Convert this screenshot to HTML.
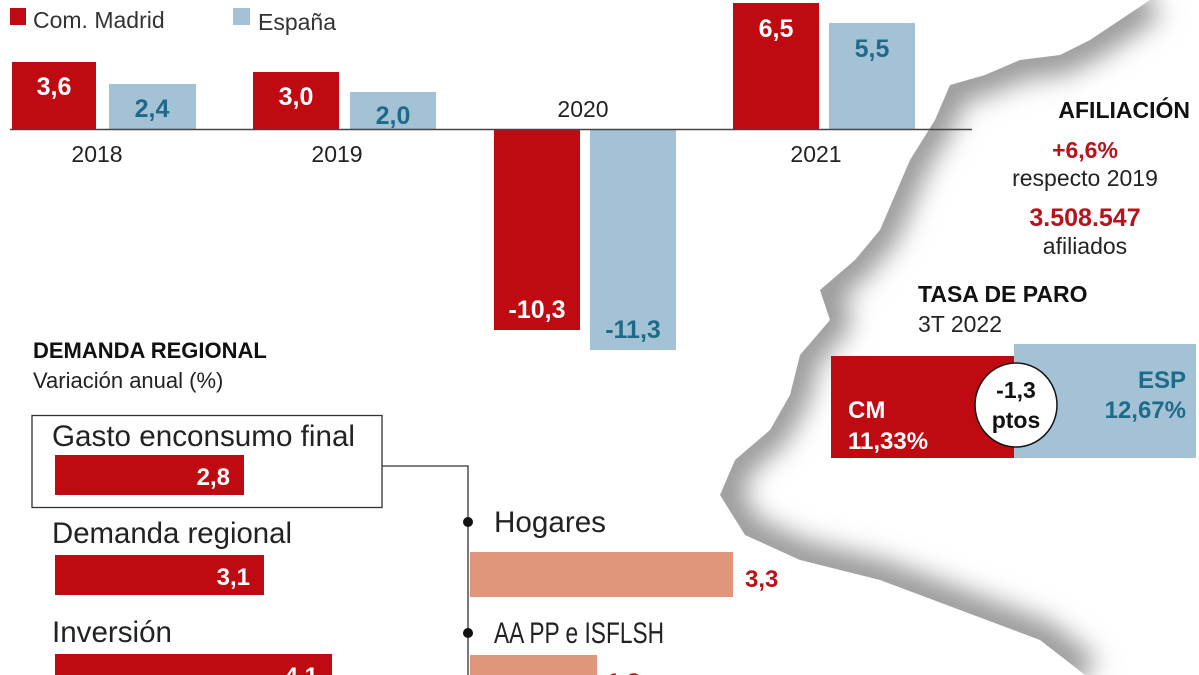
<!DOCTYPE html>
<html><head><meta charset="utf-8"><style>
html,body{margin:0;padding:0;background:#fff;}
svg{display:block;}
text{font-family:"Liberation Sans",sans-serif;}
</style></head><body>
<svg width="1199" height="675" viewBox="0 0 1199 675" xmlns="http://www.w3.org/2000/svg">
<defs>
<filter id="bl" x="-30%" y="-30%" width="160%" height="160%"><feGaussianBlur stdDeviation="13"/></filter>
<clipPath id="mc"><path d="M1150,0 L1199,0 L1199,675 L1085,675 L1040,640 L960,610 L880,580 L800,560 L745,535 L720,495 L735,460 L770,430 L790,395 L800,355 L830,320 L820,290 L855,260 L880,230 L895,195 L910,160 L935,120 L950,85 L985,75 L1020,60 L1060,55 L1090,40 L1120,20 Z"/></clipPath>
</defs>
<g clip-path="url(#mc)">
<rect x="700" y="0" width="499" height="675" fill="#fff"/>
<path d="M1150,0 L1120,20 L1090,40 L1060,55 L1020,60 L985,75 L950,85 L935,120 L910,160 L895,195 L880,230 L855,260 L820,290 L830,320 L800,355 L790,395 L770,430 L735,460 L720,495 L745,535 L800,560 L880,580 L960,610 L1040,640 L1085,675" fill="none" stroke="#999" stroke-width="40" filter="url(#bl)"/>
</g>
<!-- legend -->
<rect x="10" y="8" width="16" height="17" fill="#c00a12"/>
<text x="33" y="28" font-size="23" fill="#333">Com. Madrid</text>
<rect x="233" y="8" width="17" height="17" fill="#a3c2d6"/>
<text x="258" y="30" font-size="23" fill="#333">España</text>
<!-- bars -->
<rect x="12" y="62" width="84" height="67" fill="#c00a12"/>
<rect x="109" y="84" width="87" height="45" fill="#a3c2d6"/>
<rect x="253" y="72" width="86" height="57" fill="#c00a12"/>
<rect x="350" y="92" width="86" height="37" fill="#a3c2d6"/>
<rect x="494" y="129" width="86" height="201" fill="#c00a12"/>
<rect x="590" y="129" width="86" height="221" fill="#a3c2d6"/>
<rect x="733" y="3" width="86" height="126" fill="#c00a12"/>
<rect x="829" y="23" width="86" height="106" fill="#a3c2d6"/>
<line x1="10" y1="129.5" x2="972" y2="129.5" stroke="#444" stroke-width="1.5"/>
<g font-weight="bold" font-size="25" text-anchor="middle">
<text x="54" y="95" fill="#fff">3,6</text>
<text x="152" y="117" fill="#1f6a88">2,4</text>
<text x="296" y="105" fill="#fff">3,0</text>
<text x="393" y="124" fill="#1f6a88">2,0</text>
<text x="537" y="318" fill="#fff">-10,3</text>
<text x="633" y="338" fill="#1f6a88">-11,3</text>
<text x="776" y="37" fill="#fff">6,5</text>
<text x="872" y="57" fill="#1f6a88">5,5</text>
</g>
<g font-size="23" text-anchor="middle" fill="#222">
<text x="97" y="162">2018</text>
<text x="337" y="162">2019</text>
<text x="583" y="117">2020</text>
<text x="816" y="162">2021</text>
</g>
<!-- afiliacion -->
<g text-anchor="middle">
<text x="1190" y="118" font-size="23" font-weight="bold" text-anchor="end" fill="#111">AFILIACIÓN</text>
<text x="1085" y="158" font-size="23" font-weight="bold" fill="#b8121b">+6,6%</text>
<text x="1085" y="186" font-size="23" fill="#222">respecto 2019</text>
<text x="1085" y="226" font-size="25" font-weight="bold" fill="#b8121b">3.508.547</text>
<text x="1085" y="254" font-size="23" fill="#222">afiliados</text>
</g>
<text x="918" y="302" font-size="23" font-weight="bold" fill="#111">TASA DE PARO</text>
<text x="918" y="332" font-size="23" fill="#222">3T 2022</text>
<rect x="831" y="356" width="184" height="102" fill="#c00a12"/>
<rect x="1014" y="344" width="182" height="114" fill="#a3c2d6"/>
<text x="848" y="418" font-size="24" font-weight="bold" fill="#fff">CM</text>
<text x="848" y="449" font-size="24" font-weight="bold" fill="#fff">11,33%</text>
<text x="1186" y="388" font-size="24" font-weight="bold" fill="#1f6a88" text-anchor="end">ESP</text>
<text x="1186" y="418" font-size="24" font-weight="bold" fill="#1f6a88" text-anchor="end">12,67%</text>
<ellipse cx="1016" cy="405" rx="41" ry="42" fill="#fff" stroke="#111" stroke-width="1.5"/>
<text x="1016" y="398" font-size="23" font-weight="bold" text-anchor="middle" fill="#111">-1,3</text>
<text x="1016" y="428" font-size="23" font-weight="bold" text-anchor="middle" fill="#111">ptos</text>
<!-- demanda -->
<text x="33" y="358" font-size="22" font-weight="bold" fill="#111">DEMANDA REGIONAL</text>
<text x="33" y="388" font-size="22" fill="#222">Variación anual (%)</text>
<rect x="32" y="415.5" width="350" height="92" fill="none" stroke="#333" stroke-width="1.3"/>
<polyline points="382,466 468,466 468,675" fill="none" stroke="#333" stroke-width="1.3"/>
<circle cx="468" cy="522" r="5" fill="#111"/>
<circle cx="468" cy="633" r="5" fill="#111"/>
<g font-size="30" fill="#222">
<text x="52" y="446" textLength="303" lengthAdjust="spacingAndGlyphs">Gasto enconsumo final</text>
<text x="52" y="543" textLength="240" lengthAdjust="spacingAndGlyphs">Demanda regional</text>
<text x="52" y="642" textLength="120" lengthAdjust="spacingAndGlyphs">Inversión</text>
<text x="494" y="532" textLength="112" lengthAdjust="spacingAndGlyphs">Hogares</text>
<text x="494" y="643" textLength="170" lengthAdjust="spacingAndGlyphs">AA PP e ISFLSH</text>
</g>
<rect x="55" y="455" width="189" height="40" fill="#c00a12"/>
<rect x="55" y="555" width="209" height="40" fill="#c00a12"/>
<rect x="55" y="654" width="277" height="30" fill="#c00a12"/>
<rect x="470" y="552" width="263" height="45" fill="#e0967a"/>
<rect x="470" y="655" width="127" height="30" fill="#e0967a"/>
<g font-size="24" font-weight="bold">
<text x="230" y="485" fill="#fff" text-anchor="end">2,8</text>
<text x="250" y="585" fill="#fff" text-anchor="end">3,1</text>
<text x="318" y="684" fill="#fff" text-anchor="end">4,1</text>
<text x="745" y="587" fill="#b8121b">3,3</text>
<text x="607" y="690" fill="#b8121b">1,8</text>
</g>
</svg>
</body></html>
